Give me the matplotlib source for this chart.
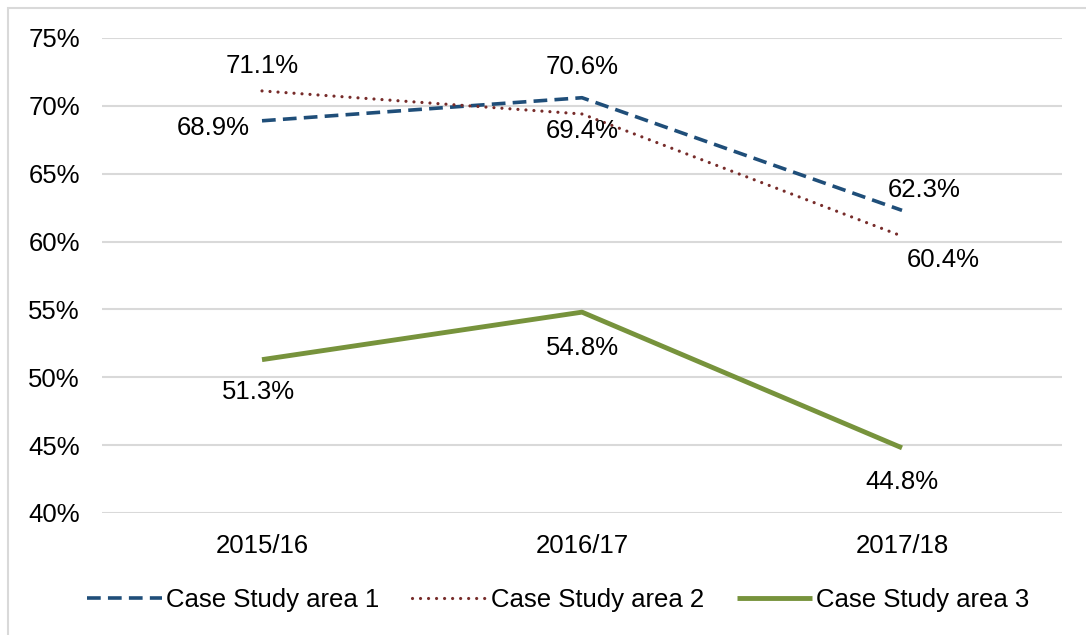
import matplotlib.pyplot as plt
from matplotlib.patches import Rectangle
from matplotlib.ticker import FuncFormatter

years = ['2015/16', '2016/17', '2017/18']
area1 = [68.9, 70.6, 62.3]
area2 = [71.1, 69.4, 60.4]
area3 = [51.3, 54.8, 44.8]
series_names = ['Case Study area 1', 'Case Study area 2', 'Case Study area 3']

plt.rcParams['font.family'] = ['Liberation Sans', 'DejaVu Sans']
fs = 18.5

fig = plt.figure(figsize=(10.86, 6.35), dpi=100)
ax = fig.add_axes([102 / 1086, 1 - 513 / 635, 960 / 1086, 475 / 635])

x = range(len(years))
ax.plot(x, area1, color='#1F4E79', lw=2.6, linestyle=(0, (3.8, 2.0)),
        label=series_names[0])
ax.plot(x, area2, color='#772C2A', lw=2.3, linestyle=(0, (0.01, 2.5)),
        dash_capstyle='round', label=series_names[1])
ax.plot(x, area3, color='#77933C', lw=3.5, solid_capstyle='butt',
        label=series_names[2])

# data labels (pixel offsets from each point)
offsets1 = [(-12, -7, 'right'), (0, 31, 'center'), (22, 20, 'center')]
offsets2 = [(0, 25, 'center'), (0, -17, 'center'), (41, -24, 'center')]
offsets3 = [(-4, -32, 'center'), (0, -36, 'center'), (0, -34, 'center')]
for vals, offs in [(area1, offsets1), (area2, offsets2), (area3, offsets3)]:
    for i, v in enumerate(vals):
        dx, dy, ha = offs[i]
        ax.annotate(f'{v:.1f}%', (i, v), xytext=(dx, dy), textcoords='offset pixels',
                    ha=ha, va='center', fontsize=fs, color='#000000')

ax.set_xlim(-0.5, 2.5)
ax.set_ylim(40, 75)
ax.set_yticks(range(40, 76, 5))
ax.yaxis.set_major_formatter(FuncFormatter(lambda v, p: f'{v:.0f}%'))
ax.set_xticks(list(x))
ax.set_xticklabels(years)
ax.tick_params(axis='y', length=0, pad=16, labelsize=fs)
ax.tick_params(axis='x', length=0, pad=15, labelsize=fs)
ax.grid(axis='y', color='#D9D9D9', lw=1.5)
ax.set_axisbelow(True)
for s in ax.spines.values():
    s.set_visible(False)

fig.legend(loc='center', bbox_to_anchor=(558 / 1086, 1 - 600 / 635), ncol=3,
           frameon=False, fontsize=fs, handlelength=2.9, handletextpad=0.15,
           columnspacing=1.3)

# outer chart border (only top and left edges visible)
fig.patches.append(Rectangle((8 / 1086, -0.1), 1.2, 1 - 8 / 635 + 0.1,
                             transform=fig.transFigure, fill=False,
                             edgecolor='#D9D9D9', lw=1.5))

fig.savefig('out.png', dpi=100)
